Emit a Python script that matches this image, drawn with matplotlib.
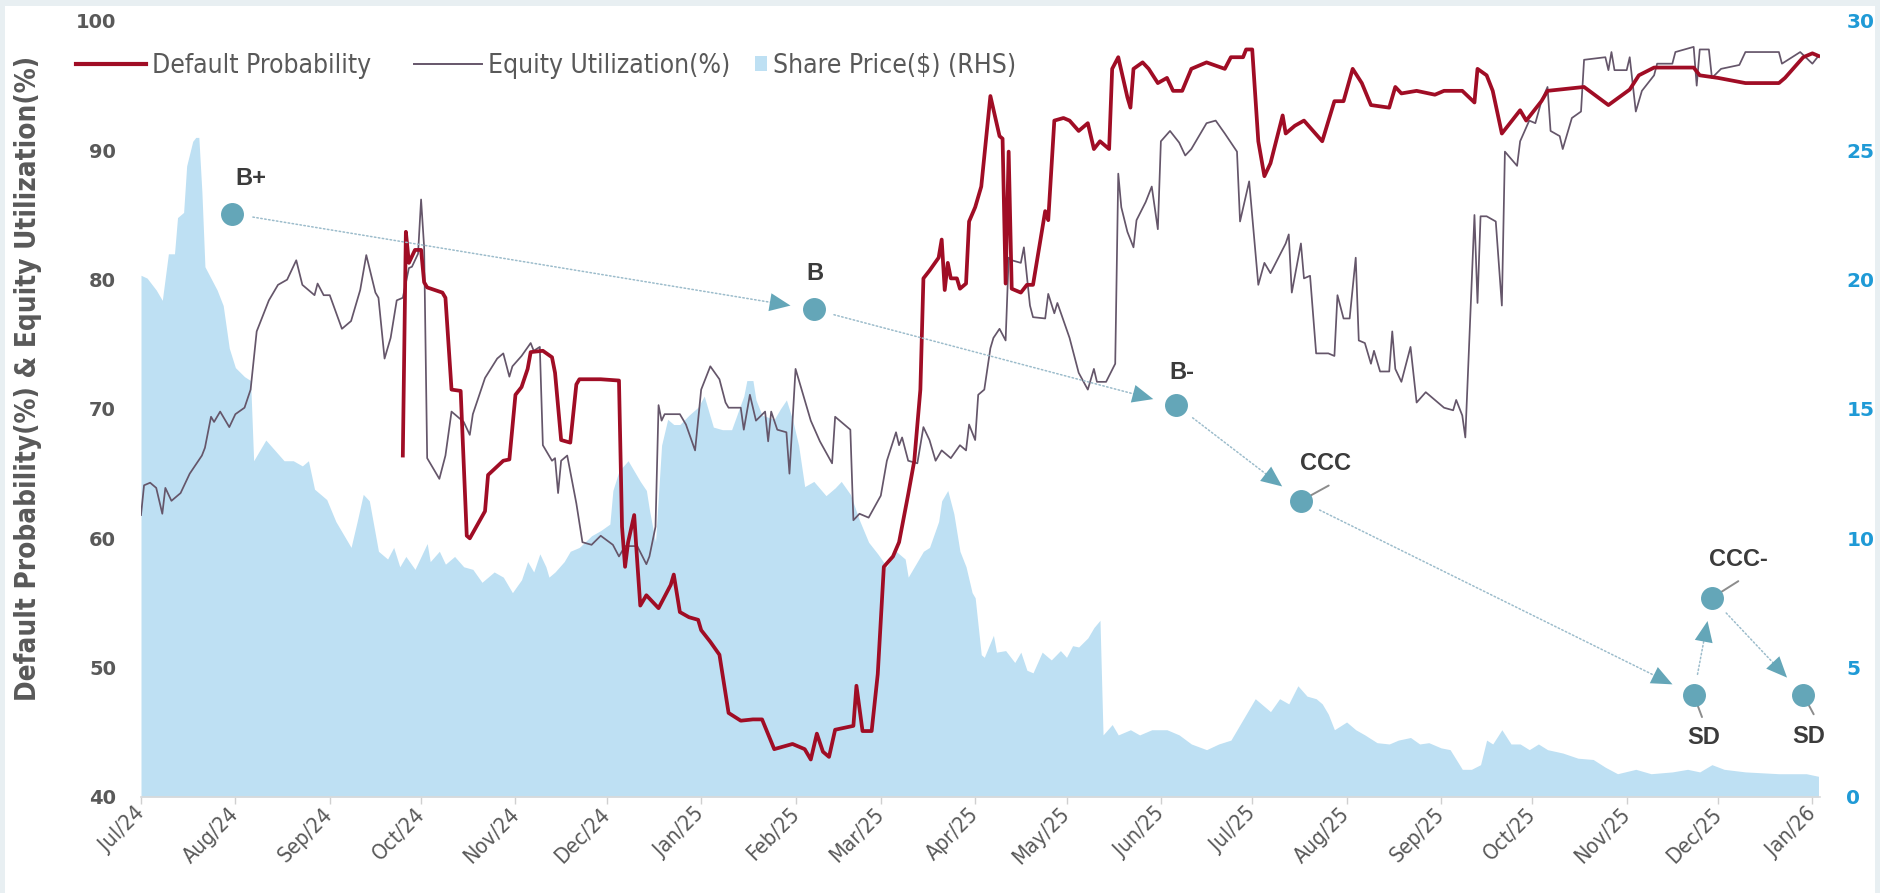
import os
import matplotlib
matplotlib.use("Agg")
import matplotlib.pyplot as plt
import matplotlib.dates as mdates
import pandas as pd
from matplotlib import font_manager
from matplotlib.font_manager import FontProperties
from matplotlib.lines import Line2D
from matplotlib.patches import Patch, Rectangle, FancyArrowPatch, ArrowStyle

# ---- data -------------------------------------------------------------
dp_dates = [
    "2024-09-25", "2024-09-26", "2024-09-27", "2024-09-29", "2024-10-01", "2024-10-02", "2024-10-03",
    "2024-10-08", "2024-10-09", "2024-10-11", "2024-10-14", "2024-10-16", "2024-10-17", "2024-10-22",
    "2024-10-23", "2024-10-28", "2024-10-30", "2024-11-01", "2024-11-03", "2024-11-05", "2024-11-06",
    "2024-11-10", "2024-11-13", "2024-11-14", "2024-11-16", "2024-11-19", "2024-11-21", "2024-11-22",
    "2024-11-29", "2024-12-05", "2024-12-06", "2024-12-07", "2024-12-08", "2024-12-10", "2024-12-11",
    "2024-12-12", "2024-12-14", "2024-12-18", "2024-12-22", "2024-12-23", "2024-12-25", "2024-12-28",
    "2024-12-31", "2025-01-01", "2025-01-04", "2025-01-07", "2025-01-10", "2025-01-14", "2025-01-18",
    "2025-01-21", "2025-01-25", "2025-01-28", "2025-01-31", "2025-02-04", "2025-02-06", "2025-02-08",
    "2025-02-10", "2025-02-12", "2025-02-14", "2025-02-20", "2025-02-21", "2025-02-23", "2025-02-26",
    "2025-02-28", "2025-03-02", "2025-03-05", "2025-03-07", "2025-03-10", "2025-03-12", "2025-03-14",
    "2025-03-15", "2025-03-17", "2025-03-20", "2025-03-21", "2025-03-22", "2025-03-23", "2025-03-24",
    "2025-03-26", "2025-03-27", "2025-03-29", "2025-03-30", "2025-04-01", "2025-04-03", "2025-04-06",
    "2025-04-09", "2025-04-10", "2025-04-11", "2025-04-12", "2025-04-13", "2025-04-16", "2025-04-18",
    "2025-04-20", "2025-04-24", "2025-04-25", "2025-04-27", "2025-04-30", "2025-05-02", "2025-05-05",
    "2025-05-08", "2025-05-10", "2025-05-12", "2025-05-15", "2025-05-16", "2025-05-18", "2025-05-21",
    "2025-05-22", "2025-05-23", "2025-05-26", "2025-05-28", "2025-05-31", "2025-06-03", "2025-06-05",
    "2025-06-08", "2025-06-11", "2025-06-16", "2025-06-22", "2025-06-24", "2025-06-28", "2025-06-29",
    "2025-07-01", "2025-07-03", "2025-07-05", "2025-07-07", "2025-07-11", "2025-07-12", "2025-07-15",
    "2025-07-18", "2025-07-21", "2025-07-24", "2025-07-28", "2025-07-31", "2025-08-03", "2025-08-06",
    "2025-08-09", "2025-08-15", "2025-08-17", "2025-08-19", "2025-08-24", "2025-08-30", "2025-09-02",
    "2025-09-08", "2025-09-12", "2025-09-13", "2025-09-16", "2025-09-18", "2025-09-21", "2025-09-25",
    "2025-09-27", "2025-09-29", "2025-10-04", "2025-10-06", "2025-10-18", "2025-10-26", "2025-11-02",
    "2025-11-05", "2025-11-10", "2025-11-23", "2025-11-25", "2025-12-01", "2025-12-10", "2025-12-21",
    "2025-12-23", "2025-12-29", "2026-01-01", "2026-01-03",
]
dp_vals = [
    66.4, 83.7, 81.3, 82.3, 82.3, 79.8, 79.4,
    79.0, 78.6, 71.5, 71.4, 60.2, 60.0, 62.1,
    64.9, 66.0, 66.1, 71.1, 71.7, 73.1, 74.4,
    74.5, 74.0, 72.8, 67.6, 67.4, 71.9, 72.3,
    72.3, 72.2, 60.9, 57.8, 59.7, 61.8, 58.2,
    54.8, 55.6, 54.6, 56.4, 57.2, 54.3, 53.9,
    53.7, 52.9, 52.0, 51.0, 46.5, 45.9, 46.0,
    46.0, 43.7, 43.9, 44.1, 43.7, 42.9, 44.9,
    43.5, 43.1, 45.2, 45.5, 48.6, 45.1, 45.1,
    49.5, 57.8, 58.6, 59.7, 63.4, 66.0, 71.5,
    80.1, 80.7, 81.7, 83.1, 79.2, 81.3, 80.1,
    80.1, 79.3, 79.7, 84.5, 85.6, 87.2, 94.2,
    91.1, 90.9, 79.7, 89.9, 79.3, 79.0, 79.6,
    79.6, 85.3, 84.6, 92.3, 92.5, 92.3, 91.5,
    92.1, 90.1, 90.7, 90.1, 96.3, 97.2, 94.1,
    93.3, 96.3, 96.8, 96.3, 95.2, 95.6, 94.6,
    94.6, 96.3, 96.8, 96.3, 97.2, 97.2, 97.8,
    97.8, 90.7, 88.0, 89.0, 92.7, 91.3, 91.9,
    92.3, 91.5, 90.7, 93.8, 93.8, 96.3, 95.2,
    93.5, 93.3, 94.9, 94.4, 94.6, 94.3, 94.6,
    94.6, 93.7, 96.3, 95.8, 94.6, 91.3, 92.5,
    93.1, 92.3, 93.8, 94.6, 94.9, 93.5, 94.7,
    95.8, 96.4, 96.4, 95.8, 95.6, 95.2, 95.2,
    95.6, 97.2, 97.5, 97.3,
]

eu_dates = [
    "2024-07-01", "2024-07-02", "2024-07-04", "2024-07-06", "2024-07-08", "2024-07-09", "2024-07-11",
    "2024-07-14", "2024-07-17", "2024-07-21", "2024-07-22", "2024-07-24", "2024-07-25", "2024-07-27",
    "2024-07-30", "2024-08-01", "2024-08-04", "2024-08-06", "2024-08-08", "2024-08-12", "2024-08-15",
    "2024-08-18", "2024-08-21", "2024-08-23", "2024-08-27", "2024-08-28", "2024-08-30", "2024-09-01",
    "2024-09-05", "2024-09-08", "2024-09-11", "2024-09-13", "2024-09-16", "2024-09-17", "2024-09-19",
    "2024-09-21", "2024-09-23", "2024-09-25", "2024-09-27", "2024-09-28", "2024-09-30", "2024-10-01",
    "2024-10-02", "2024-10-03", "2024-10-07", "2024-10-09", "2024-10-11", "2024-10-15", "2024-10-17",
    "2024-10-18", "2024-10-22", "2024-10-26", "2024-10-28", "2024-10-30", "2024-10-31", "2024-11-03",
    "2024-11-06", "2024-11-07", "2024-11-09", "2024-11-10", "2024-11-13", "2024-11-14", "2024-11-15",
    "2024-11-16", "2024-11-18", "2024-11-21", "2024-11-23", "2024-11-26", "2024-11-29", "2024-12-03",
    "2024-12-05", "2024-12-07", "2024-12-11", "2024-12-14", "2024-12-15", "2024-12-17", "2024-12-18",
    "2024-12-19", "2024-12-20", "2024-12-25", "2024-12-27", "2024-12-30", "2025-01-01", "2025-01-04",
    "2025-01-07", "2025-01-09", "2025-01-10", "2025-01-14", "2025-01-15", "2025-01-17", "2025-01-19",
    "2025-01-22", "2025-01-23", "2025-01-24", "2025-01-26", "2025-01-29", "2025-01-30", "2025-02-01",
    "2025-02-06", "2025-02-09", "2025-02-13", "2025-02-14", "2025-02-19", "2025-02-20", "2025-02-22",
    "2025-02-25", "2025-03-01", "2025-03-03", "2025-03-06", "2025-03-07", "2025-03-08", "2025-03-10",
    "2025-03-13", "2025-03-15", "2025-03-17", "2025-03-19", "2025-03-21", "2025-03-24", "2025-03-27",
    "2025-03-29", "2025-03-30", "2025-04-01", "2025-04-02", "2025-04-04", "2025-04-06", "2025-04-07",
    "2025-04-09", "2025-04-11", "2025-04-12", "2025-04-13", "2025-04-16", "2025-04-17", "2025-04-19",
    "2025-04-20", "2025-04-24", "2025-04-25", "2025-04-27", "2025-04-28", "2025-05-02", "2025-05-05",
    "2025-05-08", "2025-05-10", "2025-05-11", "2025-05-14", "2025-05-17", "2025-05-18", "2025-05-19",
    "2025-05-21", "2025-05-23", "2025-05-24", "2025-05-27", "2025-05-29", "2025-05-31", "2025-06-01",
    "2025-06-04", "2025-06-07", "2025-06-09", "2025-06-11", "2025-06-16", "2025-06-19", "2025-06-22",
    "2025-06-26", "2025-06-27", "2025-06-30", "2025-07-03", "2025-07-05", "2025-07-07", "2025-07-12",
    "2025-07-13", "2025-07-14", "2025-07-17", "2025-07-18", "2025-07-20", "2025-07-22", "2025-07-26",
    "2025-07-28", "2025-07-29", "2025-07-31", "2025-08-02", "2025-08-04", "2025-08-05", "2025-08-07",
    "2025-08-09", "2025-08-10", "2025-08-12", "2025-08-15", "2025-08-16", "2025-08-17", "2025-08-19",
    "2025-08-22", "2025-08-24", "2025-08-27", "2025-08-30", "2025-09-02", "2025-09-05", "2025-09-06",
    "2025-09-08", "2025-09-09", "2025-09-12", "2025-09-13", "2025-09-14", "2025-09-16", "2025-09-19",
    "2025-09-21", "2025-09-22", "2025-09-26", "2025-09-27", "2025-09-30", "2025-10-02", "2025-10-04",
    "2025-10-06", "2025-10-07", "2025-10-10", "2025-10-11", "2025-10-14", "2025-10-17", "2025-10-18",
    "2025-10-25", "2025-10-26", "2025-10-27", "2025-10-28", "2025-11-01", "2025-11-02", "2025-11-04",
    "2025-11-06", "2025-11-10", "2025-11-11", "2025-11-16", "2025-11-17", "2025-11-23", "2025-11-24",
    "2025-11-25", "2025-11-28", "2025-11-29", "2025-12-02", "2025-12-08", "2025-12-10", "2025-12-21",
    "2025-12-22", "2025-12-28", "2026-01-01", "2026-01-03",
]
eu_vals = [
    61.8, 64.1, 64.3, 63.9, 61.9, 63.9, 62.9,
    63.5, 65.0, 66.4, 67.0, 69.4, 69.0, 69.8,
    68.6, 69.6, 70.1, 71.5, 76.0, 78.4, 79.6,
    80.0, 81.5, 79.6, 78.8, 79.7, 78.8, 78.8,
    76.2, 76.8, 79.2, 81.9, 79.0, 78.6, 73.9,
    75.5, 78.4, 78.6, 80.9, 81.0, 82.0, 86.2,
    82.5, 66.2, 64.6, 66.4, 69.8, 69.0, 68.0,
    69.6, 72.4, 73.9, 74.3, 72.5, 73.3, 74.1,
    75.1, 74.5, 74.8, 67.2, 66.0, 66.2, 63.5,
    66.0, 66.4, 62.7, 59.7, 59.5, 60.2, 59.5,
    58.6, 59.4, 59.4, 58.0, 58.6, 60.9, 70.3,
    69.1, 69.6, 69.6, 68.8, 66.8, 71.5, 73.3,
    72.3, 70.5, 70.1, 70.1, 68.4, 71.1, 69.1,
    69.8, 67.5, 69.8, 68.4, 68.2, 65.0, 73.1,
    69.1, 67.5, 65.8, 69.4, 68.4, 61.4, 61.9,
    61.6, 63.3, 66.0, 68.2, 67.2, 67.8, 66.0,
    65.8, 68.6, 67.6, 66.0, 66.8, 66.2, 67.2,
    66.8, 68.8, 67.6, 71.1, 71.5, 74.7, 75.5,
    76.2, 75.3, 81.7, 81.5, 81.3, 82.5, 78.0,
    77.1, 77.0, 78.9, 77.4, 78.2, 75.5, 72.8,
    71.5, 73.1, 72.1, 72.1, 73.5, 88.2, 85.6,
    83.7, 82.5, 84.6, 86.0, 87.2, 83.9, 90.7,
    91.5, 90.6, 89.6, 90.1, 92.1, 92.3, 91.3,
    89.9, 84.5, 87.6, 79.6, 81.3, 80.5, 82.8,
    83.5, 79.0, 82.8, 80.1, 80.3, 74.3, 74.3,
    74.1, 78.8, 77.0, 77.0, 81.7, 75.3, 75.1,
    73.5, 74.5, 72.9, 72.9, 76.0, 73.1, 72.1,
    74.8, 70.5, 71.3, 70.7, 70.1, 69.9, 70.7,
    69.5, 67.8, 85.0, 78.2, 84.9, 84.9, 84.5,
    78.0, 89.9, 88.8, 90.7, 92.3, 92.1, 93.8,
    94.9, 91.5, 91.1, 90.1, 92.5, 93.0, 97.0,
    97.2, 96.2, 97.6, 96.2, 96.2, 97.2, 93.0,
    94.6, 95.8, 96.7, 96.7, 97.6, 98.0, 95.0,
    97.8, 97.8, 95.6, 96.3, 96.6, 97.6, 97.6,
    96.7, 97.6, 96.7, 97.3,
]

px_dates = [
    "2024-07-01", "2024-07-03", "2024-07-06", "2024-07-08", "2024-07-10", "2024-07-12", "2024-07-13",
    "2024-07-15", "2024-07-16", "2024-07-18", "2024-07-19", "2024-07-20", "2024-07-21", "2024-07-22",
    "2024-07-26", "2024-07-28", "2024-07-30", "2024-08-01", "2024-08-04", "2024-08-06", "2024-08-07",
    "2024-08-10", "2024-08-11", "2024-08-14", "2024-08-17", "2024-08-20", "2024-08-23", "2024-08-25",
    "2024-08-27", "2024-08-31", "2024-09-03", "2024-09-08", "2024-09-10", "2024-09-12", "2024-09-14",
    "2024-09-17", "2024-09-20", "2024-09-22", "2024-09-24", "2024-09-26", "2024-09-29", "2024-10-01",
    "2024-10-03", "2024-10-04", "2024-10-07", "2024-10-09", "2024-10-12", "2024-10-15", "2024-10-18",
    "2024-10-21", "2024-10-25", "2024-10-28", "2024-10-31", "2024-11-03", "2024-11-05", "2024-11-07",
    "2024-11-09", "2024-11-11", "2024-11-12", "2024-11-14", "2024-11-17", "2024-11-19", "2024-11-22",
    "2024-11-26", "2024-11-29", "2024-12-02", "2024-12-03", "2024-12-05", "2024-12-08", "2024-12-10",
    "2024-12-12", "2024-12-14", "2024-12-15", "2024-12-17", "2024-12-19", "2024-12-21", "2024-12-23",
    "2024-12-25", "2024-12-28", "2024-12-31", "2025-01-02", "2025-01-05", "2025-01-08", "2025-01-11",
    "2025-01-15", "2025-01-16", "2025-01-18", "2025-01-19", "2025-01-21", "2025-01-25", "2025-01-27",
    "2025-01-29", "2025-01-31", "2025-02-02", "2025-02-04", "2025-02-07", "2025-02-11", "2025-02-14",
    "2025-02-16", "2025-02-19", "2025-02-22", "2025-02-25", "2025-02-28", "2025-03-03", "2025-03-06",
    "2025-03-09", "2025-03-10", "2025-03-13", "2025-03-15", "2025-03-17", "2025-03-20", "2025-03-21",
    "2025-03-23", "2025-03-25", "2025-03-27", "2025-03-29", "2025-03-31", "2025-04-01", "2025-04-03",
    "2025-04-04", "2025-04-07", "2025-04-08", "2025-04-11", "2025-04-14", "2025-04-16", "2025-04-18",
    "2025-04-20", "2025-04-23", "2025-04-26", "2025-04-29", "2025-05-01", "2025-05-03", "2025-05-05",
    "2025-05-08", "2025-05-10", "2025-05-12", "2025-05-13", "2025-05-16", "2025-05-18", "2025-05-22",
    "2025-05-25", "2025-05-29", "2025-06-03", "2025-06-07", "2025-06-11", "2025-06-16", "2025-06-20",
    "2025-06-24", "2025-06-27", "2025-06-30", "2025-07-02", "2025-07-05", "2025-07-07", "2025-07-10",
    "2025-07-13", "2025-07-16", "2025-07-19", "2025-07-22", "2025-07-24", "2025-07-26", "2025-07-28",
    "2025-08-01", "2025-08-04", "2025-08-07", "2025-08-11", "2025-08-15", "2025-08-18", "2025-08-22",
    "2025-08-25", "2025-08-28", "2025-09-01", "2025-09-04", "2025-09-06", "2025-09-08", "2025-09-11",
    "2025-09-14", "2025-09-16", "2025-09-18", "2025-09-21", "2025-09-24", "2025-09-27", "2025-09-30",
    "2025-10-03", "2025-10-06", "2025-10-11", "2025-10-16", "2025-10-21", "2025-10-25", "2025-10-29",
    "2025-11-04", "2025-11-09", "2025-11-16", "2025-11-21", "2025-11-25", "2025-11-29", "2025-12-03",
    "2025-12-10", "2025-12-21", "2025-12-30", "2026-01-03",
]
px_vals = [
    20.17, 20.06, 19.6, 19.2, 21.0, 21.0, 22.4,
    22.6, 24.4, 25.35, 25.5, 25.5, 23.4, 20.5,
    19.6, 19.0, 17.35, 16.6, 16.25, 16.1, 13.0,
    13.6, 13.8, 13.4, 13.0, 13.0, 12.8, 13.0,
    11.9, 11.5, 10.65, 9.65, 10.65, 11.7, 11.45,
    9.5, 9.2, 9.65, 8.9, 9.3, 8.8, 9.3,
    9.8, 9.1, 9.5, 9.0, 9.3, 8.9, 8.8,
    8.3, 8.7, 8.5, 7.9, 8.4, 9.1, 8.7,
    9.4, 8.9, 8.5, 8.7, 9.1, 9.5, 9.65,
    10.1, 10.3, 10.55, 11.85, 12.6, 13.0, 12.6,
    12.2, 11.85, 11.1, 9.85, 13.6, 14.6, 14.4,
    14.4, 14.76, 15.07, 15.5, 14.3, 14.2, 14.2,
    15.5, 16.1, 16.1, 15.35, 14.76, 14.6, 15.0,
    15.35, 14.6, 13.6, 12.0, 12.2, 11.65, 11.95,
    12.2, 11.7, 10.7, 9.85, 9.4, 8.9, 9.5,
    9.2, 8.5, 9.1, 9.5, 9.65, 10.65, 11.45,
    11.85, 10.95, 9.5, 8.9, 7.9, 7.7, 5.5,
    5.4, 6.25, 5.6, 5.66, 5.2, 5.6, 4.9,
    4.8, 5.6, 5.3, 5.66, 5.4, 5.85, 5.8,
    6.15, 6.55, 6.83, 2.4, 2.8, 2.4, 2.6,
    2.4, 2.6, 2.6, 2.4, 2.05, 1.83, 2.05,
    2.2, 2.8, 3.4, 3.8, 3.5, 3.3, 3.8,
    3.6, 4.3, 3.9, 3.8, 3.6, 3.2, 2.6,
    2.9, 2.6, 2.4, 2.1, 2.05, 2.2, 2.3,
    2.05, 2.1, 1.9, 1.83, 1.45, 1.07, 1.07,
    1.25, 2.2, 2.05, 2.6, 2.05, 2.05, 1.83,
    2.05, 1.83, 1.7, 1.5, 1.45, 1.15, 0.9,
    1.07, 0.9, 0.97, 1.07, 0.97, 1.25, 1.07,
    0.97, 0.9, 0.9, 0.8,
]

rating_names = ["B+", "B", "B-", "CCC", "SD", "CCC-", "SD"]
rating_dates = ["2024-07-31", "2025-02-07", "2025-06-06", "2025-07-17", "2025-11-23", "2025-11-29", "2025-12-29"]
rating_level = [85.1, 77.7, 70.3, 62.9, 47.9, 55.4, 47.9]

# ---- styling ----------------------------------------------------------
W, H = 1880, 893
RED = "#a00d25"
GREY = "#65566a"
SKY = "#bee0f3"
TEAL = "#64a6b8"
DOTS = "#9cbccb"
INK = "#595959"
BLUE = "#1f9ad6"


def narrow_font(bold):
    """Path of an installed narrow/condensed sans face, or None."""
    found = []
    for f in font_manager.fontManager.ttflist:
        base = os.path.basename(f.fname).lower()
        if any(k in base for k in ("italic", "oblique", "semi", "extra", "ultra", "light", "thin",
                                   "medium", "black", "mono")):
            continue
        if f.name == "Liberation Sans Narrow":
            rank = 0
        elif "condensed" in base or "narrow" in base:
            rank = 1
        else:
            continue
        if ("bold" in base) == bold:
            found.append((rank, f.fname))
    return sorted(found)[0][1] if found else None


reg_path, bold_path = narrow_font(False), narrow_font(True)
if reg_path and bold_path:
    LEG_FP = FontProperties(fname=reg_path, size=19)
    XT_FP = FontProperties(fname=reg_path, size=15.5)
    YL_FP = FontProperties(fname=bold_path, size=20)
else:
    LEG_FP = FontProperties(family="Liberation Sans", size=19)
    XT_FP = FontProperties(family="Liberation Sans", size=14)
    YL_FP = FontProperties(family="Liberation Sans", weight="bold", size=21)

dp_d = pd.to_datetime(dp_dates)
eu_d = pd.to_datetime(eu_dates)
px_d = pd.to_datetime(px_dates)
rt_d = pd.to_datetime(rating_dates)

fig = plt.figure(figsize=(W / 100, H / 100), dpi=100)
fig.patch.set_facecolor("#e8eff2")
fig.add_artist(Rectangle((5 / W, 0), 1 - 10 / W, 1 - 6 / H, transform=fig.transFigure,
                         facecolor="white", edgecolor="none", zorder=-5))

ax = fig.add_axes([141 / W, 1 - 797 / H, 1679 / W, 776 / H])
ax2 = ax.twinx()
ax.set_zorder(ax2.get_zorder() + 1)
ax.patch.set_visible(False)

# share price area on the right scale
ax2.fill_between(px_d, px_vals, 0, color=SKY, lw=0)
ax2.set_ylim(0, 30)
ax2.set_yticks(range(0, 31, 5))
ax2.tick_params(axis="y", length=0, pad=19, labelsize=14.5, labelcolor=BLUE)
for t in ax2.get_yticklabels():
    t.set_fontweight("bold")
for s in ax2.spines.values():
    s.set_visible(False)

# utilisation and default probability on the left scale
ax.plot(eu_d, eu_vals, color=GREY, lw=1.25, zorder=2)
ax.plot(dp_d, dp_vals, color=RED, lw=2.7, zorder=3)

ax.set_ylim(40, 100)
ax.set_yticks(range(40, 101, 10))
ax.set_xlim(pd.Timestamp("2024-07-01"), pd.Timestamp("2026-01-03 12:00"))
ax.xaxis.set_major_locator(mdates.MonthLocator())
ax.xaxis.set_major_formatter(mdates.DateFormatter("%b/%y"))
ax.tick_params(axis="y", length=0, pad=18, labelsize=14, labelcolor=INK)
for t in ax.get_yticklabels():
    t.set_fontweight("bold")
ax.tick_params(axis="x", length=5, width=1, color="#d0d0d0", pad=5, labelcolor=INK)
for t in ax.get_xticklabels():
    t.set_fontproperties(XT_FP)
    t.set_rotation(45)
    t.set_ha("right")
    t.set_va("center")
    t.set_rotation_mode("anchor")
for side in ["left", "right", "top"]:
    ax.spines[side].set_visible(False)
ax.spines["bottom"].set_color("#d9d9d9")
ax.spines["bottom"].set_linewidth(1.2)

fig.text(28 / W, 1 - 378 / H, "Default Probability(%) & Equity Utilization(%)", rotation=90,
         ha="center", va="center", color=INK, fontproperties=YL_FP)

# rating path: dotted links with solid heads
xs = mdates.date2num(rt_d)
for i in range(len(xs) - 1):
    a, b = (xs[i], rating_level[i]), (xs[i + 1], rating_level[i + 1])
    ax.add_patch(FancyArrowPatch(a, b, arrowstyle="-", linestyle=(0, (1, 1.6)), color=DOTS,
                                 lw=1.1, shrinkA=15, shrinkB=28, zorder=4))
    ax.add_patch(FancyArrowPatch(a, b, arrowstyle=ArrowStyle("-|>", head_length=15, head_width=6.5),
                                 facecolor=TEAL, edgecolor="none", lw=0, shrinkA=15, shrinkB=17, zorder=4))
ax.plot(rt_d, rating_level, "o", ms=15.5, color=TEAL, ls="none", zorder=5)

label_off = [(13, 25), (0.5, 26), (4, 23.5), (18, 27), (7, -30.5), (19, 27.5), (4, -30)]
stub_end = [None, None, None, (20, 11), (6, -16), (19, 12), (7.5, -14)]
for name, d, v, off, stub in zip(rating_names, rt_d, rating_level, label_off, stub_end):
    if stub is not None:
        ax.annotate("", xy=(d, v), xytext=stub, textcoords="offset points",
                    arrowprops=dict(arrowstyle="-", color="#8c8c8c", lw=1.4, shrinkA=0, shrinkB=7))
    ax.annotate(name, xy=(d, v), xytext=off, textcoords="offset points", ha="center", va="center",
                fontsize=17, fontweight="bold", family="Liberation Sans", color="#3b3b3b")

# legend, one entry per block so each handle keeps its own width
em = LEG_FP.get_size_in_points() * 100 / 72
leg_kw = dict(loc="center left", frameon=False, borderaxespad=0, borderpad=0,
              handletextpad=6 / em, prop=LEG_FP, labelcolor=INK)
fig.legend([Line2D([], [], color=RED, lw=3)], ["Default Probability"],
           bbox_to_anchor=(76 / W, 1 - 66 / H), handlelength=70 / em, **leg_kw)
fig.legend([Line2D([], [], color=GREY, lw=1.4)], ["Equity Utilization(%)"],
           bbox_to_anchor=(414 / W, 1 - 66 / H), handlelength=68 / em, **leg_kw)
fig.legend([Patch(facecolor=SKY, edgecolor="none")], ["Share Price($) (RHS)"],
           bbox_to_anchor=(755 / W, 1 - 66 / H), handlelength=12 / em, handleheight=12 / em, **leg_kw)

fig.savefig("out.png", dpi=100, facecolor=fig.get_facecolor())
